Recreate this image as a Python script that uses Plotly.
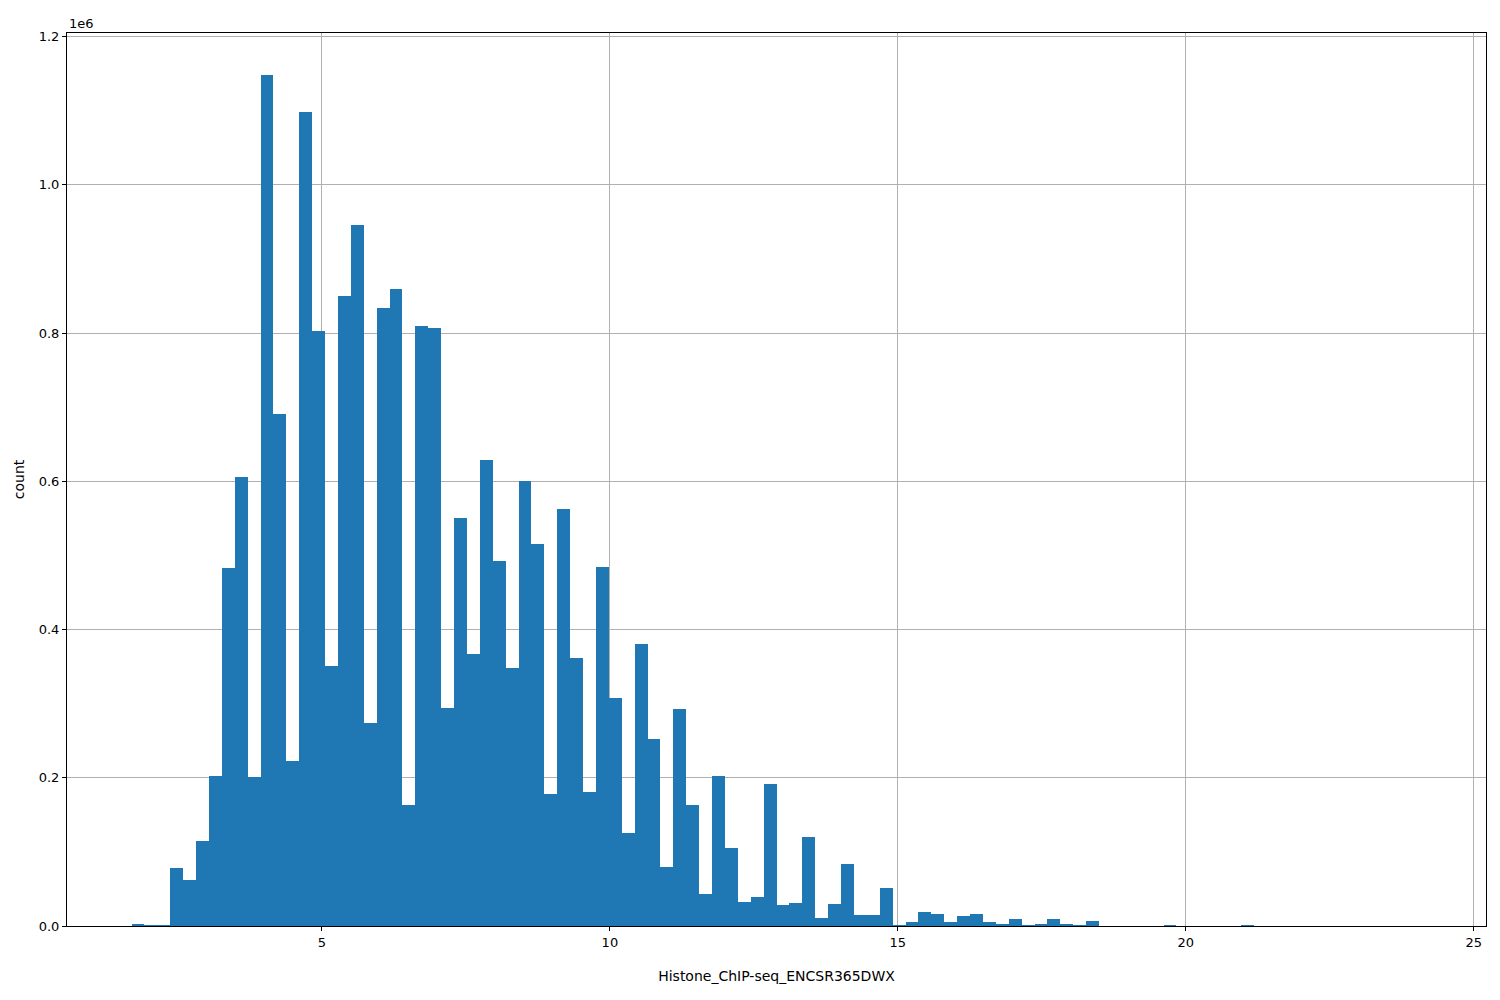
import plotly.graph_objects as go

# histogram of 100 bins, counts
bin_start = 1.693
bin_width = 0.224
counts = [
    2000, 500, 1000, 78000, 62000, 115000, 203000, 483000, 606000, 201000,
    1148000, 691000, 222000, 1098000, 803000, 351000, 850000, 946000, 274000, 834000,
    860000, 163000, 810000, 807000, 294000, 551000, 367000, 629000, 493000, 348000,
    601000, 515000, 178000, 563000, 361000, 181000, 485000, 308000, 125000, 380000,
    253000, 80000, 293000, 163000, 43000, 202000, 105000, 32000, 39000, 191000,
    28000, 31000, 120000, 11000, 30000, 84000, 15000, 15000, 51000, 800,
    5000, 19000, 16000, 5000, 13000, 16000, 5000, 3000, 10000, 1000,
    3000, 10000, 2000, 1000, 7000, 0, 0, 0, 0, 0,
    1000, 0, 0, 0, 0, 0, 1000, 0, 0, 0,
    0, 0, 0, 0, 0, 0, 0, 0, 0, 0,
]
x_ticks = [5, 10, 15, 20, 25]
y_ticks = [0, 200000, 400000, 600000, 800000, 1000000, 1200000]
y_labels = ["0.0", "0.2", "0.4", "0.6", "0.8", "1.0", "1.2"]

centers = [bin_start + bin_width * (i + 0.5) for i in range(len(counts))]
x_min = bin_start
x_max = bin_start + bin_width * len(counts)
pad = 0.05 * (x_max - x_min)

fig = go.Figure(go.Bar(x=centers, y=counts, width=bin_width,
                       marker=dict(color="#1f77b4", line=dict(width=0))))

axis_style = dict(showline=True, linecolor="black", linewidth=1, mirror=True,
                  ticks="outside", ticklen=4, tickcolor="black",
                  showgrid=True, gridcolor="#b0b0b0", gridwidth=1,
                  zeroline=False, automargin=False,
                  tickfont=dict(size=13, color="black"))

fig.update_layout(
    width=1500, height=1000,
    margin=dict(l=59, r=22, t=25, b=82),
    plot_bgcolor="white", paper_bgcolor="white",
    font=dict(family="DejaVu Sans", size=12, color="black"),
    showlegend=False, bargap=0,
)
fig.update_xaxes(range=[x_min - pad, x_max + pad], tickvals=x_ticks,
                 title=dict(text="Histone_ChIP-seq_ENCSR365DWX", standoff=22),
                 **axis_style)
fig.update_yaxes(range=[0, 1205000], tickvals=y_ticks, ticktext=y_labels,
                 title=dict(text="count", standoff=10), **axis_style)
fig.add_annotation(text="1e6", xref="paper", yref="paper", x=0, y=1,
                   xanchor="left", yanchor="bottom", showarrow=False,
                   font=dict(size=13))

fig.write_html("out.html")
